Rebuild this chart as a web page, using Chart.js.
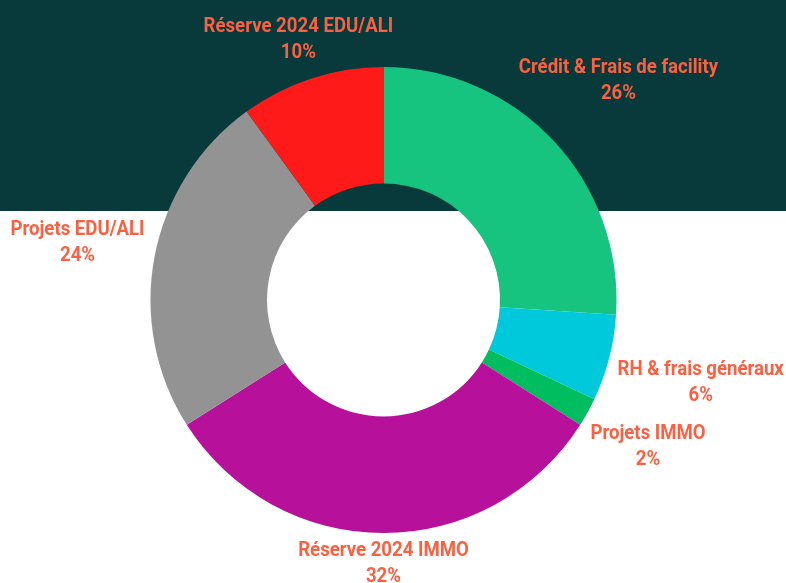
<!DOCTYPE html>
<html>
<head>
<meta charset="utf-8">
<script src="https://cdn.jsdelivr.net/npm/chart.js@4"></script>
<style>
  html, body { margin: 0; padding: 0; background: #ffffff; }
  #wrap { width: 786px; height: 583px; }
</style>
</head>
<body>
<div id="wrap"><canvas id="c" width="786" height="583"></canvas></div>
<script>
const categories = ["Crédit & Frais de facility", "RH & frais généraux", "Projets IMMO", "Réserve 2024 IMMO", "Projets EDU/ALI", "Réserve 2024 EDU/ALI"];
const shares = [26, 6, 2, 32, 24, 10];
const sliceColors = ["#16C37F", "#00C9DC", "#00BE5F", "#B7119C", "#939393", "#FF1A1A"];

const labelColor = "#FA6142";
const bandColor = "#083A3B";

const bandPlugin = {
  id: 'band',
  beforeDraw(chart) {
    const ctx = chart.ctx;
    ctx.save();
    ctx.fillStyle = '#ffffff';
    ctx.fillRect(0, 0, chart.width, chart.height);
    ctx.fillStyle = bandColor;
    ctx.fillRect(0, 0, chart.width, 211);
    ctx.restore();
  }
};

const outsideLabels = {
  id: 'outsideLabels',
  afterDatasetsDraw(chart) {
    const ctx = chart.ctx;
    const meta = chart.getDatasetMeta(0);
    const ds = chart.data.datasets[0];
    const sx = 0.93;
    ctx.save();
    ctx.font = 'bold 20px Roboto';
    ctx.fillStyle = labelColor;
    ctx.textAlign = 'center';
    ctx.textBaseline = 'middle';
    const lineGap = 26;
    const halfH = 20;
    meta.data.forEach((arc, i) => {
      const p = arc.getProps(['x', 'y', 'startAngle', 'endAngle', 'outerRadius'], true);
      const mid = (p.startAngle + p.endAngle) / 2;
      const vx = Math.cos(mid), vy = Math.sin(mid);
      const lines = [chart.data.labels[i], ds.data[i] + '%'];
      const w = Math.max(...lines.map(t => ctx.measureText(t).width)) * sx;
      const a = w / 2, b = halfH;
      const target = p.outerRadius + 9;
      let lo = 0, hi = 1200;
      for (let k = 0; k < 60; k++) {
        const d = (lo + hi) / 2;
        const cx = vx * d, cy = vy * d;
        const nx = Math.max(Math.abs(cx) - a, 0), ny = Math.max(Math.abs(cy) - b, 0);
        if (Math.hypot(nx, ny) < target) lo = d; else hi = d;
      }
      const cx = p.x + vx * lo, cy = p.y + vy * lo + 1.5;
      ctx.save();
      ctx.translate(cx, cy);
      ctx.scale(sx, 1);
      ctx.fillText(lines[0], 0, -lineGap / 2);
      ctx.fillText(lines[1], 0, lineGap / 2);
      ctx.restore();
    });
    ctx.restore();
  }
};

new Chart(document.getElementById('c'), {
  type: 'doughnut',
  data: {
    labels: categories,
    datasets: [{
      data: shares,
      backgroundColor: sliceColors,
      borderWidth: 0,
      hoverOffset: 0
    }]
  },
  options: {
    responsive: false,
    animation: false,
    cutout: '50%',
    layout: { padding: { top: 67, bottom: 50, left: 150, right: 169 } },
    plugins: {
      legend: { display: false },
      tooltip: { enabled: false }
    }
  },
  plugins: [bandPlugin, outsideLabels]
});
</script>
</body>
</html>
